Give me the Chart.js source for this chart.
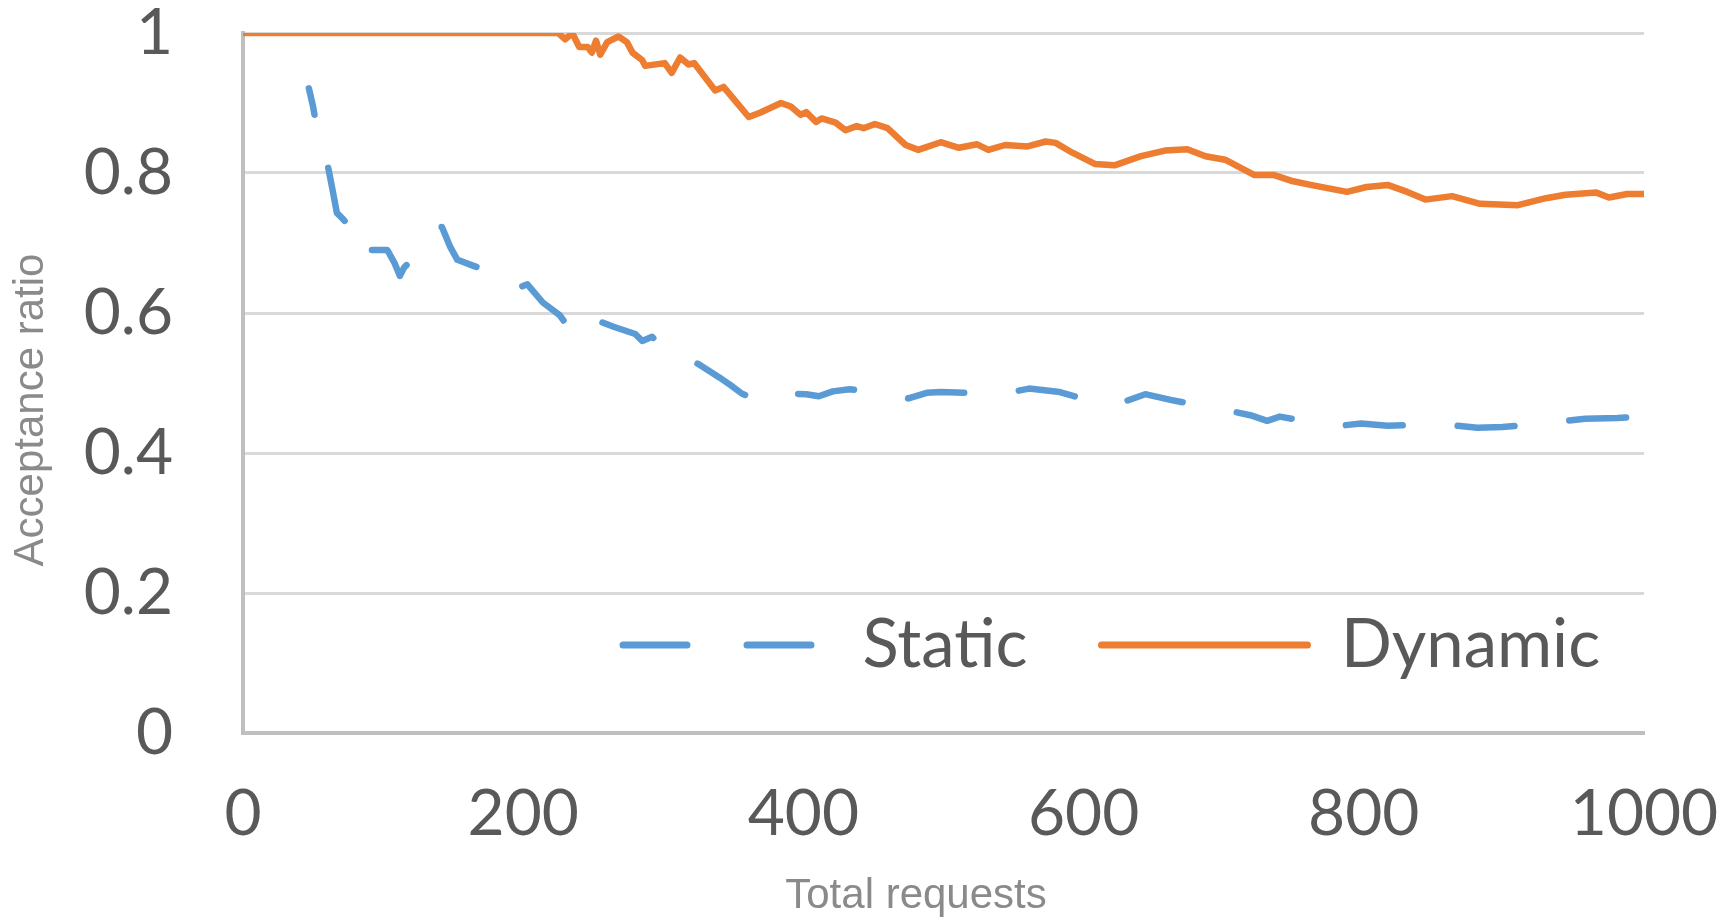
<!DOCTYPE html>
<html>
<head>
<meta charset="utf-8">
<title>Acceptance ratio</title>
<script src="https://cdn.jsdelivr.net/npm/chart.js@4.4.1/dist/chart.umd.min.js"></script>
<style>
  html, body { margin: 0; padding: 0; background: #ffffff; }
  #wrap { width: 1735px; height: 921px; }
</style>
</head>
<body>
<div id="wrap"><canvas id="lineChart"></canvas></div>
<script>
// values
var seriesNames = ['Static', 'Dynamic'];
var axisTitles = ['Total requests', 'Acceptance ratio'];
var xTickLabels = ['0', '200', '400', '600', '800', '1000'];
var yTickLabels = ['0', '0.2', '0.4', '0.6', '0.8', '1'];

var staticX = [47, 50, 53, 57, 61, 64, 67, 71, 75, 79, 83, 86, 89, 96, 103, 108, 112, 115, 118, 127,
  136, 142, 148, 153, 165, 176, 182, 187, 193, 198, 203, 214, 226, 230, 234, 237, 244, 249, 265, 280,
  285, 292, 300, 304, 309, 325, 340, 348, 356, 363, 371, 386, 402, 411, 421, 433, 447, 461, 475, 488,
  498, 520, 541, 561, 583, 602, 620, 644, 662, 682, 702, 719, 731, 740, 760, 778, 798, 817, 840, 861,
  881, 899, 920, 940, 958, 981, 1000];
var staticY = [0.921, 0.895, 0.861, 0.835, 0.806, 0.775, 0.743, 0.735, 0.726, 0.703, 0.680, 0.688, 0.690, 0.690, 0.690, 0.672, 0.653, 0.665, 0.671, 0.700,
  0.723, 0.723, 0.694, 0.676, 0.667, 0.659, 0.657, 0.648, 0.633, 0.637, 0.641, 0.615, 0.597, 0.586, 0.597, 0.590, 0.604, 0.592, 0.580, 0.570,
  0.560, 0.566, 0.550, 0.554, 0.543, 0.527, 0.508, 0.497, 0.485, 0.479, 0.487, 0.485, 0.484, 0.481, 0.488, 0.491, 0.488, 0.486, 0.478, 0.486,
  0.487, 0.486, 0.484, 0.492, 0.487, 0.476, 0.467, 0.484, 0.476, 0.468, 0.461, 0.454, 0.446, 0.452, 0.445, 0.438, 0.442, 0.439, 0.440, 0.440,
  0.436, 0.437, 0.441, 0.445, 0.449, 0.450, 0.452];

var dynamicX = [0, 225, 230, 235, 240, 246, 249, 252, 255, 260, 268, 274, 278, 285, 287, 301, 306, 312, 318, 322,
  337, 343, 353, 361, 369, 384, 391, 398, 402, 409, 413, 423, 430, 438, 443, 451, 460, 473, 482, 498,
  511, 524, 532, 544, 560, 573, 580, 592, 608, 622, 641, 658, 674, 687, 701, 722, 736, 748, 762, 788,
  802, 817, 831, 844, 863, 883, 910, 930, 944, 966, 975, 988, 1000];
var dynamicY = [1, 1, 0.991, 1, 0.980, 0.980, 0.972, 0.989, 0.969, 0.987, 0.995, 0.987, 0.972, 0.961, 0.953, 0.957, 0.943, 0.965, 0.955, 0.957,
  0.918, 0.923, 0.899, 0.880, 0.886, 0.900, 0.895, 0.883, 0.887, 0.873, 0.878, 0.872, 0.861, 0.867, 0.864, 0.870, 0.864, 0.840, 0.833, 0.844,
  0.836, 0.841, 0.833, 0.840, 0.838, 0.845, 0.843, 0.829, 0.813, 0.811, 0.824, 0.832, 0.834, 0.824, 0.819, 0.797, 0.797, 0.789, 0.783, 0.773,
  0.780, 0.783, 0.773, 0.762, 0.767, 0.756, 0.754, 0.764, 0.769, 0.772, 0.765, 0.770, 0.770];

var tickFont = { family: 'Lato, "Open Sans", sans-serif', size: 64, lineHeight: 1 };
var legendFont = { family: 'Lato, "Open Sans", sans-serif', size: 67, lineHeight: 1 };
var legendPadding = 74;

function toPoints(xs, ys) {
  return xs.map(function (x, i) {
    return { x: x, y: ys[i] };
  });
}

// scales should not push the plot area around with label padding
function noPadding(scale) {
  scale.paddingTop = 0;
  scale.paddingBottom = 0;
  scale.paddingLeft = 0;
  scale.paddingRight = 0;
}

// legend sits inside the plot, axis titles are slightly off-centre in the original
var placeExtras = {
  id: 'placeExtras',
  afterLayout: function (chart) {
    var lg = chart.legend;
    lg.left = 623 - legendPadding;
    lg.right = 1735;
    lg.top = 645 - legendPadding - legendFont.size / 2;
    lg.bottom = lg.top + 300;
    lg.width = lg.right - lg.left;
    lg.height = lg.bottom - lg.top;
  },
  afterDraw: function (chart) {
    var ctx = chart.ctx;
    ctx.save();
    ctx.fillStyle = '#8a8a8a';
    ctx.font = '42px "Liberation Sans", Arial, sans-serif';
    ctx.textAlign = 'center';
    ctx.textBaseline = 'middle';
    ctx.fillText(axisTitles[0], 916, 896);
    ctx.translate(31, 410);
    ctx.rotate(-Math.PI / 2);
    ctx.fillText(axisTitles[1], 0, 0);
    ctx.restore();
  }
};

function createLineChart() {
  var ctx = document.getElementById('lineChart').getContext('2d');

  return new Chart(ctx, {
    type: 'line',
    data: {
      datasets: [
        {
          label: seriesNames[0],
          data: toPoints(staticX, staticY),
          borderColor: '#5B9BD5',
          backgroundColor: '#5B9BD5',
          borderWidth: 6.5,
          borderDash: [57, 55],
          borderDashOffset: 30,
          borderCapStyle: 'round',
          borderJoinStyle: 'round',
          pointRadius: 0,
          tension: 0,
        },
        {
          label: seriesNames[1],
          data: toPoints(dynamicX, dynamicY),
          borderColor: '#ED7D31',
          backgroundColor: '#ED7D31',
          borderWidth: 6.5,
          borderCapStyle: 'round',
          borderJoinStyle: 'round',
          pointRadius: 0,
          tension: 0,
        },
      ],
    },
    options: {
      responsive: true,
      maintainAspectRatio: false,
      animation: false,
      layout: {
        autoPadding: false,
        padding: { top: 32, left: 0, right: 91, bottom: 0 },
      },
      scales: {
        x: {
          type: 'linear',
          min: 0,
          max: 1000,
          grid: { display: false, drawTicks: false },
          border: { display: true, color: '#bfbfbf', width: 4 },
          ticks: {
            stepSize: 200,
            padding: 49,
            autoSkip: false,
            maxRotation: 0,
            color: '#595959',
            font: tickFont,
            callback: function (value, index) {
              return xTickLabels[index];
            },
          },
          afterFit: function (scale) {
            scale.height = 188;
            noPadding(scale);
          },
        },
        y: {
          min: 0,
          max: 1,
          grid: {
            drawTicks: false,
            lineWidth: 3,
            color: function (c) {
              return c.tick && c.tick.value === 0 ? '#bfbfbf' : '#d9d9d9';
            },
          },
          border: { display: true, color: '#bfbfbf', width: 4 },
          ticks: {
            stepSize: 0.2,
            padding: 70,
            color: '#595959',
            font: tickFont,
            callback: function (value, index) {
              return yTickLabels[index];
            },
          },
          afterFit: function (scale) {
            scale.width = 243;
            noPadding(scale);
          },
        },
      },
      plugins: {
        tooltip: { enabled: false },
        legend: {
          position: 'top',
          align: 'start',
          maxHeight: 1,
          labels: {
            usePointStyle: true,
            pointStyle: 'line',
            pointStyleWidth: 206,
            padding: legendPadding,
            color: '#595959',
            font: legendFont,
            generateLabels: function (chart) {
              var items = Chart.defaults.plugins.legend.labels.generateLabels(chart);
              items.forEach(function (item, i) {
                item.lineWidth = 7;
                item.lineCap = 'round';
                if (i === 0) {
                  item.lineDash = [64, 60];
                  item.lineDashOffset = 0;
                }
              });
              return items;
            },
          },
        },
      },
    },
    plugins: [placeExtras],
  });
}

var lineChart = createLineChart();
</script>
</body>
</html>
